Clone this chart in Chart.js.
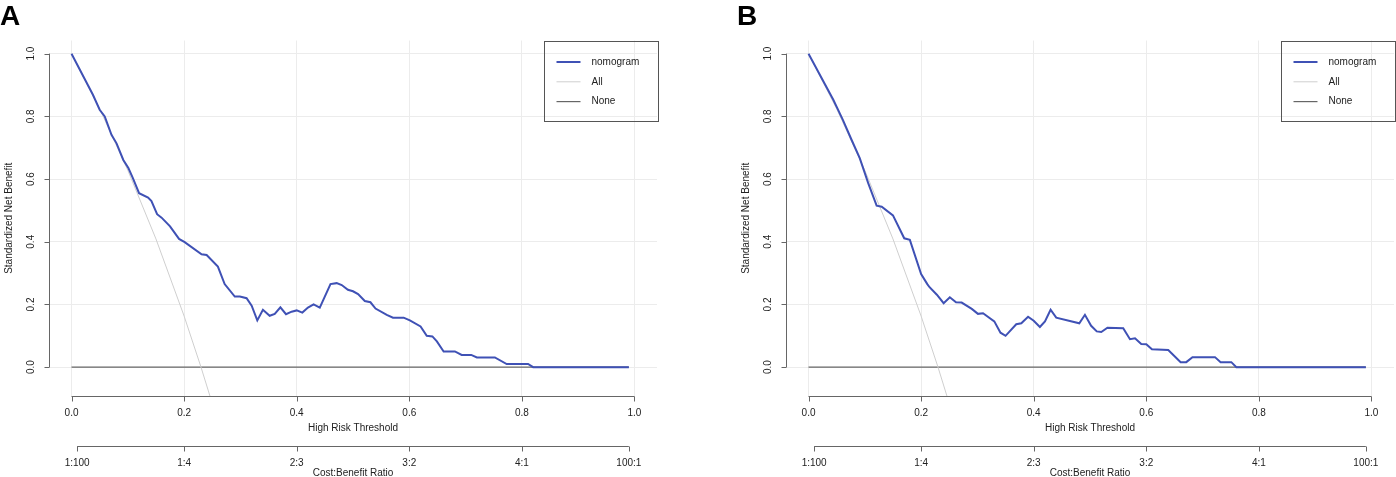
<!DOCTYPE html>
<html>
<head>
<meta charset="utf-8">
<script src="https://cdn.jsdelivr.net/npm/chart.js@4.4.1/dist/chart.umd.min.js"></script>
<style>
html,body{margin:0;padding:0;background:#fff;width:1396px;height:477px;overflow:hidden;}
.panel{position:absolute;top:0;height:477px;}
#pa{left:0;width:737px;}
#pb{left:737px;width:659px;}
</style>
</head>
<body>
<div class="panel" id="pa"><canvas id="ca"></canvas></div>
<div class="panel" id="pb"><canvas id="cb"></canvas></div>
<script>
// ---- data ----
const thresholdsA = [0.000,0.038,0.050,0.059,0.071,0.080,0.092,0.101,0.109,0.120,0.136,0.142,0.152,0.160,0.175,0.191,0.201,0.231,0.240,0.260,0.272,0.290,0.299,0.311,0.320,0.330,0.340,0.352,0.361,0.371,0.381,0.391,0.400,0.410,0.420,0.430,0.441,0.460,0.471,0.480,0.491,0.500,0.509,0.521,0.531,0.540,0.560,0.571,0.590,0.601,0.620,0.631,0.641,0.649,0.661,0.681,0.693,0.710,0.720,0.752,0.773,0.811,0.820,0.990];
const netBenefitA = [1.000,0.869,0.821,0.800,0.741,0.714,0.661,0.635,0.603,0.555,0.541,0.530,0.488,0.477,0.449,0.409,0.399,0.360,0.358,0.321,0.265,0.225,0.225,0.220,0.196,0.149,0.183,0.164,0.170,0.191,0.169,0.177,0.181,0.174,0.190,0.200,0.190,0.265,0.268,0.262,0.247,0.242,0.233,0.211,0.207,0.187,0.167,0.158,0.158,0.149,0.130,0.100,0.098,0.082,0.050,0.050,0.039,0.039,0.031,0.031,0.010,0.010,0.000,0.000];

const thresholdsB = [0.000,0.044,0.061,0.076,0.091,0.106,0.121,0.130,0.150,0.170,0.180,0.200,0.211,0.215,0.228,0.240,0.251,0.262,0.272,0.290,0.301,0.310,0.330,0.341,0.350,0.369,0.378,0.390,0.400,0.411,0.420,0.430,0.440,0.481,0.491,0.502,0.512,0.520,0.531,0.559,0.571,0.580,0.591,0.600,0.610,0.639,0.661,0.671,0.682,0.722,0.732,0.751,0.760,0.990];
const netBenefitB = [1.000,0.853,0.789,0.727,0.667,0.587,0.515,0.512,0.484,0.411,0.406,0.297,0.265,0.255,0.231,0.204,0.223,0.207,0.206,0.186,0.170,0.172,0.146,0.110,0.100,0.137,0.140,0.161,0.148,0.128,0.146,0.183,0.158,0.140,0.167,0.132,0.114,0.112,0.126,0.124,0.089,0.092,0.074,0.073,0.057,0.055,0.016,0.016,0.032,0.032,0.016,0.016,0.000,0.000];

const allThresholds = [0,0.05,0.10,0.15,0.20,0.23,0.25];
const allNetBenefit = [1.000,0.824,0.628,0.409,0.163,0.000,-0.116];

const noneThresholds = [0,0.99];
const noneNetBenefit = [0,0];

const xTicks = [0,0.2,0.4,0.6,0.8,1.0];
const xTickLabels = ['0.0','0.2','0.4','0.6','0.8','1.0'];
const yTicks = [0,0.2,0.4,0.6,0.8,1.0];
const yTickLabels = ['0.0','0.2','0.4','0.6','0.8','1.0'];
const costBenefitTicks = [0.01,0.2,0.4,0.6,0.8,0.99];
const costBenefitLabels = ['1:100','1:4','2:3','3:2','4:1','100:1'];

const seriesNames = ['nomogram','All','None'];
const seriesColors = ['#3F51B5','#cfcfcf','#666666'];

function pts(xs, ys){ return xs.map((x,i)=>({x:x,y:ys[i]})); }

const FONT = '"Liberation Sans", Arial, Helvetica, sans-serif';
const TEXT = '#222';
const AXIS = '#666';

const rAxes = {
  id:'rAxes',
  afterDraw(chart, args, opts){
    const ctx = chart.ctx, ca = chart.chartArea;
    const xs = chart.scales.x, ys = chart.scales.y;
    ctx.save();
    ctx.strokeStyle = AXIS; ctx.lineWidth = 1; ctx.fillStyle = TEXT;
    ctx.font = '10px ' + FONT;
    // y axis
    const ax = Math.round(ca.left)+0.5;
    ctx.beginPath();
    ctx.moveTo(ax, ys.getPixelForValue(yTicks[0]));
    ctx.lineTo(ax, ys.getPixelForValue(yTicks[yTicks.length-1]));
    yTicks.forEach(v=>{ const p=Math.round(ys.getPixelForValue(v))+0.5; ctx.moveTo(ax,p); ctx.lineTo(ax-5,p); });
    ctx.stroke();
    ctx.textAlign='center'; ctx.textBaseline='middle';
    yTicks.forEach((v,i)=>{ const p=ys.getPixelForValue(v); ctx.save(); ctx.translate(ca.left-18,p); ctx.rotate(-Math.PI/2); ctx.fillText(yTickLabels[i],0,0); ctx.restore(); });
    ctx.save(); ctx.translate(9,(ca.top+ca.bottom)/2); ctx.rotate(-Math.PI/2); ctx.fillText('Standardized Net Benefit',0,0); ctx.restore();
    // x axis
    const ay = Math.round(ca.bottom)+0.5;
    ctx.beginPath();
    ctx.moveTo(xs.getPixelForValue(xTicks[0]), ay);
    ctx.lineTo(xs.getPixelForValue(xTicks[xTicks.length-1]), ay);
    xTicks.forEach(v=>{ const p=Math.round(xs.getPixelForValue(v))+0.5; ctx.moveTo(p,ay); ctx.lineTo(p,ay+5); });
    ctx.stroke();
    xTicks.forEach((v,i)=>{ ctx.fillText(xTickLabels[i], xs.getPixelForValue(v), ay+17); });
    const cx = xs.getPixelForValue(0.5);
    ctx.fillText('High Risk Threshold', cx, ay+32);
    // cost:benefit axis
    const by = ay+50;
    ctx.beginPath();
    ctx.moveTo(xs.getPixelForValue(costBenefitTicks[0]), by);
    ctx.lineTo(xs.getPixelForValue(costBenefitTicks[costBenefitTicks.length-1]), by);
    costBenefitTicks.forEach(v=>{ const p=Math.round(xs.getPixelForValue(v))+0.5; ctx.moveTo(p,by); ctx.lineTo(p,by+5); });
    ctx.stroke();
    costBenefitTicks.forEach((v,i)=>{ ctx.fillText(costBenefitLabels[i], xs.getPixelForValue(v), by+17); });
    ctx.fillText('Cost:Benefit Ratio', cx, by+27);
    // legend
    const lx = Math.round(ca.right)-112.5, ly = Math.round(ca.top)+0.5, lw=114, lh=80;
    ctx.strokeStyle='#555'; ctx.strokeRect(lx,ly,lw,lh);
    ctx.textAlign='left';
    chart.data.datasets.forEach((ds,i)=>{
      const yy = ly + 20.5 + i*19.8;
      ctx.strokeStyle = ds.borderColor; ctx.lineWidth = ds.borderWidth;
      ctx.beginPath(); ctx.moveTo(lx+12,yy); ctx.lineTo(lx+36,yy); ctx.stroke();
      ctx.fillStyle = TEXT; ctx.fillText(ds.label, lx+47, yy);
    });
    // panel letter
    ctx.fillStyle='#000'; ctx.font='bold 28px '+FONT; ctx.textAlign='left'; ctx.textBaseline='alphabetic';
    ctx.fillText(opts.letter, 0, 25);
    ctx.restore();
  }
};

function makeChart(id, letter, thr, nb, rightPad){
  return new Chart(document.getElementById(id), {
    type:'line',
    data:{ datasets:[
      {label:seriesNames[0], data:pts(thr,nb), borderColor:seriesColors[0], borderWidth:2, pointRadius:0, tension:0, fill:false},
      {label:seriesNames[1], data:pts(allThresholds,allNetBenefit), borderColor:seriesColors[1], borderWidth:1, pointRadius:0, tension:0, fill:false},
      {label:seriesNames[2], data:pts(noneThresholds,noneNetBenefit), borderColor:seriesColors[2], borderWidth:1.2, pointRadius:0, tension:0, fill:false}
    ]},
    options:{
      responsive:true, maintainAspectRatio:false, animation:false,
      layout:{padding:{left:49, top:40.5, right:rightPad, bottom:477-396}},
      plugins:{legend:{display:false}, tooltip:{enabled:false}, rAxes:{letter:letter}},
      scales:{
        x:{type:'linear', min:-0.04, max:1.04,
           afterBuildTicks:s=>{ s.ticks = xTicks.map(v=>({value:v})); },
           afterFit:s=>{ s.height=0; },
           ticks:{display:false}, border:{display:false},
           grid:{color:'#ececec', lineWidth:1, drawTicks:false}},
        y:{type:'linear', min:-0.092, max:1.042,
           afterBuildTicks:s=>{ s.ticks = yTicks.map(v=>({value:v})); },
           afterFit:s=>{ s.width=0; },
           ticks:{display:false}, border:{display:false},
           grid:{color:'#ececec', lineWidth:1, drawTicks:false}}
      }
    },
    plugins:[rAxes]
  });
}
makeChart('ca','A',thresholdsA,netBenefitA,737-657);
makeChart('cb','B',thresholdsB,netBenefitB,659-657);
</script>
</body>
</html>
